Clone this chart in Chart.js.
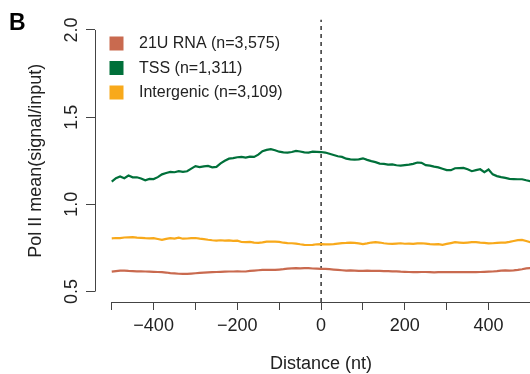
<!DOCTYPE html>
<html><head><meta charset="utf-8">
<style>html,body{margin:0;padding:0;background:#fff}#wrap{position:relative;width:530px;height:374px}</style>
<script src="https://cdn.jsdelivr.net/npm/chart.js@4/dist/chart.umd.min.js"></script>
</head><body><div id="wrap"><canvas id="c" width="530" height="374"></canvas></div>
<script>
// ---------------- DATA ----------------
const distance = [-500,-490,-480,-470,-460,-450,-440,-430,-420,-410,-400,-390,-380,-370,-360,-350,-340,-330,-320,-310,-300,-290,-280,-270,-260,-250,-240,-230,-220,-210,-200,-190,-180,-170,-160,-150,-140,-130,-120,-110,-100,-90,-80,-70,-60,-50,-40,-30,-20,-10,0,10,20,30,40,50,60,70,80,90,100,110,120,130,140,150,160,170,180,190,200,210,220,230,240,250,260,270,280,290,300,310,320,330,340,350,360,370,380,390,400,410,420,430,440,450,460,470,480,490,500];

const rna21U = [0.614,0.617,0.620,0.620,0.618,0.617,0.616,0.616,0.615,0.614,0.613,0.612,0.611,0.609,0.606,0.604,0.602,0.601,0.601,0.603,0.605,0.607,0.609,0.610,0.611,0.612,0.613,0.614,0.615,0.615,0.616,0.615,0.615,0.618,0.620,0.622,0.624,0.625,0.624,0.624,0.626,0.628,0.631,0.633,0.634,0.633,0.634,0.634,0.632,0.631,0.630,0.630,0.628,0.626,0.624,0.622,0.620,0.621,0.620,0.619,0.619,0.620,0.619,0.619,0.618,0.617,0.617,0.616,0.616,0.614,0.613,0.612,0.611,0.611,0.612,0.612,0.611,0.610,0.611,0.611,0.611,0.612,0.611,0.611,0.611,0.612,0.611,0.611,0.612,0.613,0.614,0.615,0.617,0.620,0.621,0.620,0.621,0.624,0.628,0.633,0.634];

const tss = [1.130,1.150,1.160,1.150,1.165,1.155,1.155,1.148,1.138,1.146,1.145,1.156,1.172,1.180,1.186,1.184,1.190,1.186,1.190,1.205,1.219,1.214,1.218,1.220,1.212,1.215,1.235,1.250,1.262,1.265,1.270,1.272,1.268,1.274,1.272,1.285,1.305,1.312,1.316,1.310,1.302,1.298,1.297,1.300,1.306,1.303,1.298,1.297,1.302,1.301,1.300,1.297,1.290,1.283,1.276,1.272,1.262,1.258,1.256,1.258,1.264,1.255,1.248,1.242,1.234,1.232,1.228,1.229,1.224,1.222,1.225,1.228,1.232,1.240,1.238,1.225,1.222,1.216,1.212,1.204,1.196,1.196,1.207,1.208,1.209,1.201,1.190,1.196,1.201,1.184,1.200,1.172,1.162,1.156,1.152,1.146,1.145,1.144,1.144,1.138,1.133];

const intergenic = [0.805,0.807,0.806,0.810,0.811,0.812,0.809,0.808,0.806,0.805,0.806,0.801,0.796,0.802,0.806,0.804,0.809,0.803,0.804,0.806,0.807,0.803,0.801,0.797,0.794,0.792,0.794,0.792,0.793,0.790,0.792,0.784,0.783,0.785,0.781,0.779,0.782,0.786,0.787,0.786,0.785,0.780,0.778,0.777,0.775,0.771,0.768,0.767,0.768,0.771,0.772,0.771,0.771,0.772,0.775,0.778,0.779,0.781,0.779,0.776,0.772,0.776,0.781,0.783,0.781,0.777,0.774,0.773,0.775,0.777,0.774,0.775,0.773,0.776,0.777,0.775,0.772,0.771,0.772,0.768,0.773,0.778,0.783,0.781,0.779,0.781,0.783,0.783,0.780,0.779,0.776,0.777,0.779,0.780,0.781,0.785,0.790,0.795,0.796,0.790,0.783];

const seriesNames = ['21U RNA (n=3,575)', 'TSS (n=1,311)', 'Intergenic (n=3,109)'];
const xTickValues = [-500,-400,-300,-200,-100,0,100,200,300,400,500];
const xLabeledTicks = [-400,-200,0,200,400];
const yTickValues = [0.5,1.0,1.5,2.0];
const markerPosition = 0;
const panelLetter = 'B';
const xTitle = 'Distance (nt)';
const yTitle = 'Pol II mean(signal/input)';

// ---------------- STYLE ----------------
const FONT = '"Liberation Sans", Arial, Helvetica, sans-serif';
const colors = ['#c96a4f', '#00703a', '#f8a91b'];
const Y_MIN = 0.44, Y_MAX = 2.06, X_MIN = -540, X_MAX = 499;
Chart.defaults.font.family = FONT;

const toPts = arr => distance.map((d, i) => ({x: d, y: arr[i]}));
const fmtX = v => xLabeledTicks.includes(v) ? (v < 0 ? '\u2212' + Math.abs(v) : String(v)) : '';

const decor = {
  id: 'decor',
  afterDraw(chart) {
    const ctx = chart.ctx, xs = chart.scales.x, ys = chart.scales.y, ca = chart.chartArea;
    ctx.save();
    ctx.strokeStyle = '#444'; ctx.lineWidth = 1;
    const xa = Math.round(ca.bottom) + 0.5;
    ctx.beginPath();
    ctx.moveTo(xs.getPixelForValue(xTickValues[0]), xa);
    ctx.lineTo(Math.min(xs.getPixelForValue(xTickValues[xTickValues.length - 1]), chart.width), xa);
    ctx.stroke();
    const ya = Math.round(ca.left) + 0.5;
    ctx.beginPath();
    ctx.moveTo(ya, ys.getPixelForValue(yTickValues[0]));
    ctx.lineTo(ya, ys.getPixelForValue(yTickValues[yTickValues.length - 1]));
    ctx.stroke();
    ctx.fillStyle = '#222';
    ctx.font = '18px ' + FONT;
    ctx.textAlign = 'center'; ctx.textBaseline = 'alphabetic';
    ctx.fillText(xTitle, xs.getPixelForValue(0), 368.5);
    ctx.save();
    ctx.translate(40.7, (ca.top + ca.bottom) / 2);
    ctx.rotate(-Math.PI / 2);
    ctx.fillText(yTitle, 0, 0);
    ctx.restore();
    ctx.font = '16px ' + FONT;
    ctx.textAlign = 'left'; ctx.textBaseline = 'middle';
    const rows = [43.5, 68, 92.5];
    chart.data.datasets.slice(0, 3).forEach((ds, i) => {
      ctx.fillStyle = ds.borderColor;
      ctx.fillRect(109.5, rows[i] - 7, 14, 14);
      ctx.fillStyle = '#222';
      ctx.fillText(ds.label, 139, rows[i] + 0.5);
    });
    ctx.font = 'bold 23px ' + FONT;
    ctx.fillStyle = '#000';
    ctx.textBaseline = 'alphabetic';
    ctx.fillText(panelLetter, 9, 29.5);
    ctx.restore();
  }
};

new Chart(document.getElementById('c'), {
  type: 'line',
  data: {
    datasets: [
      {label: seriesNames[0], data: toPts(rna21U), borderColor: colors[0]},
      {label: seriesNames[1], data: toPts(tss), borderColor: colors[1]},
      {label: seriesNames[2], data: toPts(intergenic), borderColor: colors[2]},
      {label: 'marker', data: [{x: markerPosition, y: Y_MIN}, {x: markerPosition, y: Y_MAX}],
       borderColor: '#000', borderWidth: 1.2, borderDash: [4, 4]}
    ]
  },
  options: {
    responsive: false,
    animation: false,
    events: [],
    layout: {padding: {top: 19.5, left: 0, right: 0, bottom: 0}},
    elements: {
      point: {radius: 0},
      line: {borderWidth: 2.2, tension: 0, fill: false}
    },
    plugins: {legend: {display: false}, tooltip: {enabled: false}},
    scales: {
      x: {
        type: 'linear', min: X_MIN, max: X_MAX,
        afterBuildTicks: s => { s.ticks = xTickValues.filter(v => v <= s.max).map(v => ({value: v})); },
        afterFit: s => { s.height = 72; s.paddingLeft = 0; s.paddingRight = 0; },
        border: {display: false},
        grid: {display: true, drawOnChartArea: false, drawTicks: true, tickLength: 8, color: '#444', lineWidth: 1},
        ticks: {autoSkip: false, maxRotation: 0, minRotation: 0, padding: 5, color: '#222',
                font: {size: 18}, callback: v => fmtX(v)}
      },
      y: {
        type: 'linear', min: Y_MIN, max: Y_MAX,
        afterBuildTicks: s => { s.ticks = yTickValues.map(v => ({value: v})); },
        afterFit: s => { s.width = 95; s.paddingTop = 0; s.paddingBottom = 0; },
        border: {display: false},
        grid: {display: true, drawOnChartArea: false, drawTicks: true, tickLength: 9, color: '#444', lineWidth: 1},
        ticks: {minRotation: 90, maxRotation: 90, crossAlign: 'center', padding: 1, color: '#222',
                font: {size: 18}, callback: v => Number(v).toFixed(1)}
      }
    }
  },
  plugins: [decor]
});
</script></body></html>
